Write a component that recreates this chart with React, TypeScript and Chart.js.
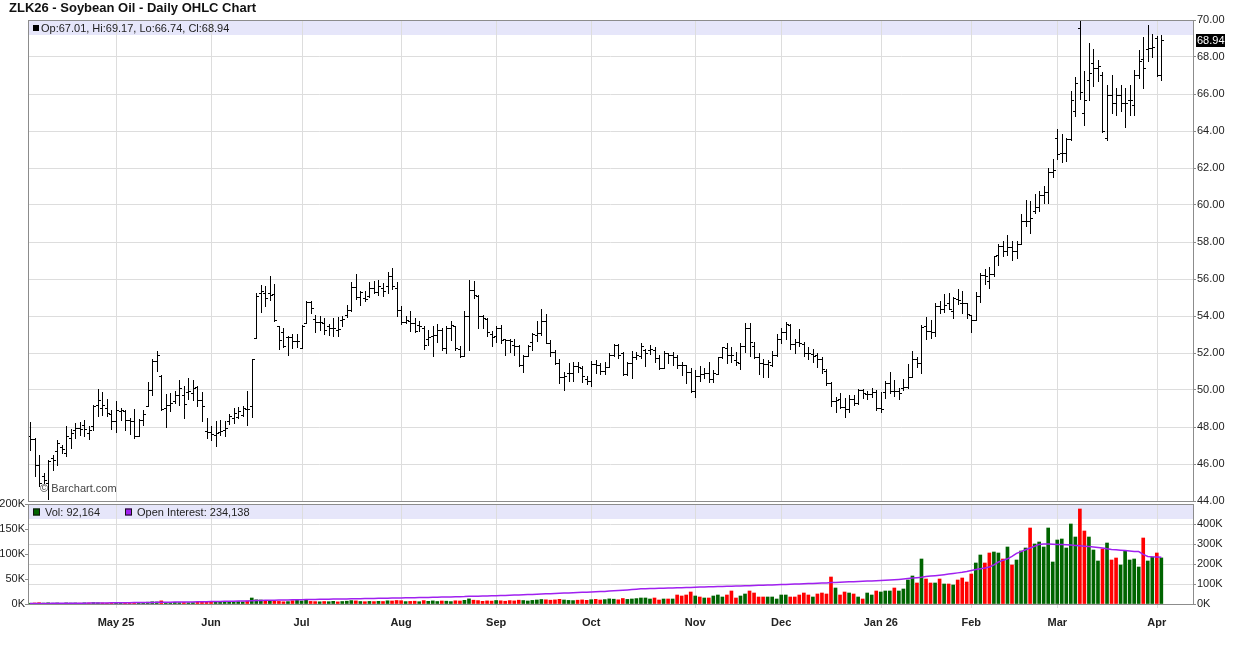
import React, { useEffect, useRef } from "react";
import { Chart, registerables } from "chart.js";

Chart.register(...registerables);

const TITLE = "ZLK26 - Soybean Oil - Daily OHLC Chart";

// first trading day of each month (bar index) and its label
const MONTH_IDX = [19, 40, 60, 82, 103, 124, 147, 166, 188, 208, 227, 249];
const MONTH_LABELS = ["May 25", "Jun", "Jul", "Aug", "Sep", "Oct", "Nov", "Dec", "Jan 26", "Feb", "Mar", "Apr"];

const OPEN = [
  47.53, 47.35, 45.96, 45.33, 45.0, 46.32, 46.68, 46.9, 46.59, 47.41,
  47.86, 47.95, 48.13, 47.68, 48.04, 49.21, 49.03, 49.03, 48.72, 48.31,
  48.85, 48.85, 48.4, 48.31, 47.53, 48.4, 49.12, 50.02, 51.59, 50.75,
  49.03, 49.21, 49.39, 49.75, 49.75, 49.87, 49.84, 50.14, 49.44, 47.77,
  47.71, 47.59, 47.71, 47.86, 48.31, 48.49, 48.54, 48.67, 48.97, 49.12,
  52.81, 55.24, 55.24, 55.24, 55.21, 53.44, 53.12, 52.86, 52.86, 52.63,
  52.27, 53.62, 54.74, 53.84, 53.66, 53.62, 53.44, 53.35, 53.26, 53.8,
  54.07, 54.31, 55.57, 55.03, 54.97, 55.06, 55.51, 55.28, 55.51, 55.64,
  56.18, 55.51, 54.31, 53.66, 53.71, 53.62, 53.53, 53.35, 52.76, 52.9,
  52.99, 53.26, 52.27, 53.35, 53.44, 52.22, 51.82, 53.98, 55.39, 55.1,
  53.98, 53.84, 53.05, 52.9, 53.35, 52.76, 52.68, 52.45, 52.36, 51.37,
  51.82, 52.61, 52.97, 53.06, 53.75, 52.56, 52.07, 51.48, 50.68, 50.94,
  50.94, 51.3, 51.17, 50.58, 50.5, 51.41, 51.35, 51.05, 51.26, 51.89,
  52.43, 51.98, 50.86, 51.48, 51.77, 51.84, 52.16, 52.16, 52.16, 51.71,
  51.17, 51.98, 51.89, 51.8, 51.35, 51.35, 50.99, 49.96, 50.76, 50.86,
  50.94, 50.58, 50.86, 51.77, 52.25, 51.89, 51.62, 51.44, 52.38, 53.33,
  52.38, 51.8, 51.44, 51.41, 51.35, 51.89, 52.74, 53.15, 53.51, 52.49,
  52.61, 52.49, 52.02, 51.95, 51.89, 51.66, 51.05, 50.4, 49.42, 49.5,
  49.1, 48.95, 49.5, 49.32, 50.0, 49.78, 49.78, 49.91, 49.01, 49.91,
  50.4, 49.96, 49.95, 50.09, 50.14, 50.72, 51.66, 51.48, 53.46, 53.19,
  53.14, 54.54, 54.36, 54.68, 54.27, 54.94, 54.72, 54.68, 54.04, 53.78,
  55.08, 56.2, 55.89, 56.25, 57.28, 57.78, 57.51, 57.75, 57.51, 57.87,
  59.14, 59.14, 59.68, 59.91, 60.52, 60.7, 61.78, 63.64, 62.79, 62.83,
  63.56, 65.06, 69.58, 64.97, 66.78, 67.69, 67.41, 67.05, 63.62, 65.97,
  65.52, 65.97, 65.52, 65.7, 65.42, 67.05, 67.87, 68.44, 68.5, 69.04,
  67.01,
];

const HIGH = [
  48.25, 47.41, 46.5, 45.51, 46.23, 46.5, 47.32, 47.05, 48.07, 47.89,
  48.22, 48.25, 48.36, 48.07, 49.21, 50.05, 49.87, 49.51, 48.9, 49.39,
  49.03, 48.9, 48.49, 48.97, 48.43, 48.9, 50.41, 51.68, 52.09, 50.83,
  49.8, 49.84, 49.93, 50.56, 50.2, 50.65, 50.56, 50.23, 49.87, 48.49,
  48.04, 48.31, 48.36, 48.31, 48.72, 49.03, 49.08, 49.12, 49.93, 51.68,
  55.24, 55.69, 55.6, 56.18, 55.75, 53.48, 53.35, 52.94, 53.05, 53.05,
  53.53, 54.79, 54.79, 54.07, 53.98, 53.89, 53.59, 53.89, 53.95, 53.98,
  54.61, 55.82, 56.29, 55.33, 55.33, 55.82, 55.87, 55.96, 55.78, 56.38,
  56.59, 55.82, 54.52, 54.02, 54.25, 53.89, 53.71, 53.48, 53.26, 53.44,
  53.57, 53.35, 53.44, 53.71, 53.44, 52.4, 54.25, 55.93, 55.87, 55.15,
  54.07, 53.89, 53.17, 53.44, 53.53, 52.76, 52.76, 52.76, 52.45, 51.91,
  52.45, 53.06, 53.75, 54.36, 54.11, 52.7, 52.16, 51.66, 50.99, 51.48,
  51.53, 51.53, 51.3, 50.76, 51.59, 51.62, 51.48, 51.53, 51.98, 52.49,
  52.49, 52.07, 51.53, 52.13, 52.07, 52.52, 52.2, 52.43, 52.34, 51.89,
  52.13, 51.98, 52.07, 51.89, 51.53, 51.35, 51.17, 51.08, 51.3, 51.17,
  51.53, 51.08, 51.8, 52.34, 52.52, 52.31, 52.07, 52.52, 53.64, 53.64,
  52.61, 51.98, 51.66, 51.62, 52.13, 53.03, 53.33, 53.69, 53.57, 52.74,
  53.28, 52.61, 52.31, 52.2, 51.98, 51.8, 51.12, 50.45, 49.6, 49.82,
  49.55, 49.73, 49.73, 50.04, 50.04, 49.96, 50.09, 50.0, 49.91, 50.5,
  50.99, 50.52, 50.12, 50.6, 51.41, 52.13, 51.8, 53.51, 53.96, 53.78,
  54.68, 54.81, 55.17, 55.26, 55.05, 55.48, 55.37, 54.72, 54.04, 55.32,
  56.34, 56.52, 56.67, 57.24, 57.87, 58.05, 58.36, 58.05, 58.05, 59.5,
  60.27, 60.22, 60.58, 60.76, 61.03, 62.02, 62.47, 64.09, 63.82, 63.64,
  66.15, 66.93, 69.95, 67.23, 68.77, 68.44, 67.83, 67.18, 66.46, 67.05,
  66.33, 66.51, 66.33, 66.51, 67.32, 68.37, 69.1, 69.71, 69.22, 69.13,
  69.17,
];

const LOW = [
  46.77, 45.33, 44.79, 44.97, 44.11, 45.69, 45.96, 46.59, 46.45, 46.86,
  47.41, 47.59, 47.5, 47.35, 47.86, 48.61, 48.67, 48.61, 47.89, 47.71,
  48.4, 47.82, 47.64, 47.41, 47.5, 48.13, 49.12, 49.75, 51.01, 48.94,
  48.0, 48.85, 49.3, 49.2, 48.49, 49.51, 49.48, 49.12, 48.31, 47.41,
  47.32, 46.99, 47.59, 47.5, 48.18, 48.22, 48.49, 48.58, 48.13, 48.54,
  52.81, 54.2, 54.52, 54.88, 53.71, 52.22, 52.32, 51.91, 52.27, 52.32,
  52.27, 53.62, 54.16, 53.12, 53.26, 53.05, 52.99, 52.94, 52.94, 53.44,
  53.95, 54.25, 54.92, 54.61, 54.79, 55.03, 55.24, 55.15, 55.06, 55.24,
  55.46, 53.98, 53.59, 53.62, 53.17, 53.12, 53.17, 52.22, 52.45, 51.82,
  52.58, 52.18, 52.0, 52.72, 52.18, 51.78, 51.82, 52.18, 54.97, 53.35,
  53.35, 52.94, 52.4, 52.58, 52.54, 51.91, 52.04, 51.91, 51.28, 50.95,
  51.82, 52.16, 52.67, 52.97, 52.52, 51.84, 51.41, 50.36, 50.0, 50.5,
  50.5, 50.99, 50.45, 50.32, 50.22, 50.9, 50.86, 50.86, 51.26, 51.84,
  51.71, 50.81, 50.81, 50.63, 51.66, 51.71, 51.3, 51.95, 51.53, 51.12,
  51.17, 51.44, 51.35, 51.17, 50.81, 50.36, 49.91, 49.6, 50.5, 50.63,
  50.45, 50.45, 50.85, 51.71, 51.48, 51.53, 51.35, 51.12, 52.07, 51.84,
  51.71, 50.86, 50.68, 50.68, 51.3, 51.84, 52.52, 52.74, 52.2, 52.02,
  52.38, 51.84, 51.66, 51.53, 51.26, 50.94, 50.27, 49.14, 48.83, 49.01,
  48.52, 48.83, 49.19, 49.24, 49.55, 49.5, 49.6, 48.92, 48.83, 49.55,
  49.86, 49.65, 49.5, 50.0, 50.09, 50.7, 51.26, 50.9, 52.74, 52.83,
  52.92, 54.14, 54.22, 54.36, 53.91, 54.63, 54.14, 53.91, 53.14, 53.78,
  54.76, 55.71, 55.53, 56.16, 56.74, 57.24, 57.28, 57.03, 57.15, 57.87,
  58.86, 58.5, 59.59, 59.68, 60.13, 60.13, 61.53, 62.5, 62.32, 62.38,
  63.53, 64.79, 65.73, 64.34, 65.7, 66.42, 66.69, 63.92, 63.53, 64.97,
  64.88, 65.06, 64.21, 64.88, 64.88, 66.87, 66.33, 67.78, 68.01, 67.0,
  66.74,
];

const CLOSE = [
  47.35, 45.96, 44.97, 45.15, 46.14, 46.23, 47.14, 46.81, 47.5, 47.68,
  47.95, 47.89, 47.89, 47.86, 49.15, 49.48, 49.21, 48.76, 48.31, 48.94,
  48.94, 48.4, 48.31, 47.5, 48.4, 48.72, 50.02, 51.55, 51.91, 49.0,
  49.21, 49.3, 49.75, 50.1, 49.26, 49.93, 50.11, 49.44, 49.12, 47.71,
  47.64, 47.68, 47.77, 47.95, 48.61, 48.76, 48.85, 49.03, 48.97, 51.68,
  55.1, 55.33, 54.97, 55.15, 53.77, 52.72, 52.4, 52.86, 52.63, 52.63,
  53.48, 54.74, 54.43, 53.66, 53.66, 53.23, 53.35, 53.35, 53.3, 53.84,
  54.34, 55.57, 55.03, 55.3, 54.92, 55.51, 55.28, 55.64, 55.33, 56.18,
  55.64, 54.31, 53.66, 53.8, 53.62, 53.17, 53.48, 52.45, 52.86, 52.99,
  53.26, 52.27, 53.35, 53.53, 52.27, 51.82, 53.98, 55.39, 55.15, 53.98,
  53.89, 53.12, 52.86, 53.35, 52.72, 52.68, 52.63, 52.36, 51.37, 51.82,
  52.4, 53.03, 53.06, 53.75, 52.56, 52.07, 51.48, 50.68, 50.76, 50.94,
  51.3, 51.23, 50.76, 50.5, 51.41, 51.35, 51.05, 51.26, 51.89, 52.43,
  51.89, 50.86, 51.48, 51.77, 51.89, 52.38, 51.98, 52.2, 51.71, 51.17,
  51.98, 51.89, 51.8, 51.35, 51.35, 50.99, 49.96, 50.76, 50.86, 50.94,
  50.58, 50.9, 51.77, 52.31, 51.89, 51.89, 51.53, 52.38, 53.33, 52.61,
  51.8, 51.44, 51.41, 51.53, 51.89, 52.74, 53.15, 53.57, 52.49, 52.61,
  52.56, 52.02, 51.98, 51.84, 51.66, 51.12, 50.4, 49.42, 49.46, 49.1,
  48.95, 49.5, 49.28, 50.0, 49.82, 49.78, 49.91, 49.01, 48.95, 50.4,
  49.96, 49.95, 49.82, 50.14, 50.72, 51.66, 51.48, 53.42, 53.19, 53.15,
  54.54, 54.36, 54.58, 54.36, 54.99, 54.86, 54.68, 54.09, 53.78, 55.08,
  56.2, 56.16, 56.25, 57.24, 57.78, 57.51, 57.75, 57.51, 57.87, 59.14,
  59.14, 59.32, 59.91, 60.52, 60.7, 61.78, 61.89, 62.74, 62.83, 63.59,
  65.7, 66.6, 66.09, 65.7, 67.14, 67.41, 67.5, 63.98, 65.97, 65.52,
  65.97, 65.52, 65.52, 65.7, 67.05, 67.78, 67.41, 68.5, 68.55, 67.05,
  68.94,
];

// volume in thousands of contracts
const VOLUME_K = [
  1.5, 2.0, 2.6, 1.8, 2.4, 1.6, 2.0, 1.4, 2.2, 1.8,
  2.0, 1.6, 2.3, 1.9, 2.8, 2.4, 2.0, 1.7, 2.2, 2.5,
  2.0, 2.6, 2.2, 3.0, 2.4, 2.8, 3.6, 4.4, 4.0, 6.2,
  3.0, 2.6, 3.4, 2.8, 3.2, 2.6, 3.0, 3.4, 3.8, 4.6,
  4.0, 5.0, 4.2, 3.6, 4.4, 3.8, 4.8, 4.2, 6.0, 12.0,
  8.4, 8.0, 7.2, 6.4, 5.6, 5.2, 4.4, 4.8, 6.6, 7.2,
  6.0, 7.4, 5.2, 4.8, 4.4, 5.0, 4.6, 5.4, 4.2, 5.0,
  5.6, 6.8, 6.2, 5.0, 4.6, 5.2, 4.8, 5.4, 5.0, 6.4,
  6.0, 7.0, 6.6, 4.8, 5.2, 5.6, 4.6, 6.8, 5.4, 6.2,
  5.0, 6.0, 5.6, 4.8, 6.4, 6.0, 7.4, 10.2, 7.6, 6.8,
  5.4, 6.2, 5.8, 7.0, 6.4, 5.6, 6.8, 6.2, 7.6, 7.0,
  6.0, 7.2, 8.0, 9.0, 8.4, 7.6, 8.2, 9.4, 8.0, 7.2,
  6.8, 7.6, 8.2, 7.4, 8.6, 9.4, 8.0, 8.8, 10.2, 9.6,
  8.4, 11.0, 9.2, 10.0, 10.8, 12, 12, 10, 12, 8,
  10, 10, 10, 18, 16, 18, 24, 16, 14, 12,
  12, 16, 18, 14, 18, 26, 12, 16, 20, 26,
  22, 14, 14, 14, 14, 10, 18, 18, 14, 14,
  18, 22, 18, 14, 20, 22, 20, 54, 32, 18,
  24, 22, 20, 14, 10, 22, 18, 26, 24, 26,
  26, 32, 26, 30, 48, 56, 42, 90, 50, 42,
  42, 50, 40, 40, 38, 48, 52, 44, 60, 82,
  98, 82, 102, 104, 102, 90, 114, 78, 88, 106,
  112, 152, 120, 124, 114, 152, 84, 128, 130, 112,
  160, 134, 190, 146, 134, 108, 86, 110, 122, 88,
  92, 78, 106, 88, 90, 74, 132, 86, 94, 102,
  92.164,
];

// open interest in thousands of contracts
const OPEN_INTEREST_K = [
  2.5, 2.6, 2.8, 3.0, 3.1, 3.2, 3.3, 3.4, 3.6, 3.8,
  4.0, 4.1, 4.3, 4.5, 4.8, 5.0, 5.3, 5.5, 5.7, 6.0,
  6.2, 6.4, 6.6, 6.9, 7.1, 7.3, 7.6, 7.9, 8.2, 8.6,
  8.9, 9.1, 9.4, 9.7, 10.0, 10.3, 10.6, 10.9, 11.3, 11.6,
  12.0, 12.4, 12.8, 13.2, 13.6, 14.0, 14.4, 14.9, 15.6, 16.8,
  17.5, 18.0, 18.4, 18.9, 19.3, 19.8, 20.2, 20.6, 21.0, 21.4,
  21.8, 22.1, 22.5, 23.0, 23.3, 23.7, 24.0, 24.4, 24.8, 25.1,
  25.5, 26.0, 26.4, 26.8, 27.1, 27.5, 27.9, 28.2, 28.6, 29.0,
  29.5, 30.0, 30.4, 30.8, 31.2, 31.7, 32.1, 32.6, 33.0, 33.5,
  34.0, 34.4, 34.9, 35.4, 35.9, 36.4, 37.0, 38.2, 38.8, 39.3,
  39.9, 40.4, 41.0, 41.6, 42.3, 43.0, 43.8, 44.5, 45.3, 46.2,
  47.0, 47.9, 48.8, 49.8, 50.7, 51.6, 52.6, 53.6, 54.5, 55.5,
  56.4, 57.3, 58.2, 59.1, 60.0, 61.0, 62.0, 63.1, 64.5, 65.9,
  67.2, 68.8, 70.4, 72.0, 73.9, 75.8, 76.5, 77.1, 77.6, 78.2,
  78.9, 79.5, 80.2, 80.9, 81.6, 82.4, 83.1, 83.8, 84.5, 85.1,
  85.7, 86.3, 86.9, 87.6, 88.2, 88.9, 89.6, 90.3, 91.0, 91.8,
  92.5, 93.3, 94.1, 94.8, 95.6, 96.4, 97.1, 97.8, 98.6, 99.4,
  100.2, 101.0, 101.9, 102.8, 103.7, 104.6, 105.6, 106.9, 108.0, 109.0,
  110.0, 110.9, 111.8, 112.7, 113.6, 114.6, 115.6, 116.6, 117.6, 118.8,
  120.0, 121.5, 123.0, 125.0, 127.2, 129.5, 131.8, 134.0, 137.0, 139.4,
  141.6, 144.0, 146.8, 149.6, 152.5, 155.6, 159.0, 163.0, 168.0, 172.0,
  176.0, 180.0, 185.0, 196.0, 210.0, 218.0, 226.0, 238.0, 253.0, 262.0,
  271.0, 280.0, 289.0, 298.0, 300.0, 300.0, 299.0, 298.0, 297.0, 296.0,
  295.0, 293.0, 291.0, 289.0, 287.0, 285.0, 283.0, 280.0, 276.0, 273.0,
  271.0, 269.0, 267.0, 265.0, 263.0, 262.0, 248.0, 238.0, 236.0, 235.0,
  234.138,
];

// volume bar colour (g = green, r = red), from bar VOL_DIR_START on;
// earlier bars are coloured by close vs previous close
const VOL_DIR_START = 135;
const VOL_DIR_LATE =
  "gggrrgrgrr" + "rrgrgrgggr" + "rrggrrrrgg" + "gggrrrrrgr" + "rrrgrrgrgr" +
  "ggrgggrggg" + "grgrrgrgrg" + "rrrrggrrgg" + "rgrgggrggg" + "gggggggrrg" +
  "ggrgrrgggg" + "grggrg";

const FONT = "'Liberation Sans', Arial, Helvetica, sans-serif";
const GRID = "#dddddd";
const BORDER = "#8c8c8c";
const BAND = "#e6e6fa";
const GREEN = "#006400";
const RED = "#ff0000";
const PURPLE = "#a020f0";

const X_MIN = -0.45;
const X_MAX = 257;

function fmt(n: number) {
  return Math.round(n).toLocaleString("en-US");
}

function monthLabel(v: any) {
  const k = MONTH_IDX.indexOf(Math.round(Number(v)));
  return k >= 0 ? MONTH_LABELS[k] : null;
}

// vertical month grid lines, positioned by the chart's own x scale
function drawMonthGrid(chart: any, tickBelow: number) {
  const { ctx, chartArea: a } = chart;
  const xs = chart.scales.x;
  ctx.save();
  ctx.strokeStyle = GRID;
  ctx.lineWidth = 1;
  ctx.beginPath();
  MONTH_IDX.forEach((idx) => {
    const x = Math.round(xs.getPixelForValue(idx)) + 0.5;
    ctx.moveTo(x, a.top);
    ctx.lineTo(x, a.bottom + tickBelow);
  });
  ctx.stroke();
  ctx.restore();
}

function drawBorder(ctx: CanvasRenderingContext2D, a: any) {
  const l = Math.floor(a.left) + 0.5;
  const r = Math.floor(a.right) + 0.5;
  const t = Math.floor(a.top) + 0.5;
  const b = Math.floor(a.bottom) + 0.5;
  ctx.save();
  ctx.strokeStyle = BORDER;
  ctx.lineWidth = 1;
  ctx.strokeRect(l, t, r - l, b - t);
  ctx.restore();
}

export default function App() {
  const priceRef = useRef<HTMLCanvasElement>(null);
  const volRef = useRef<HTMLCanvasElement>(null);

  useEffect(() => {
    Chart.defaults.font.family = FONT;
    Chart.defaults.font.size = 11;
    Chart.defaults.color = "#222";

    const last = CLOSE.length - 1;

    const priceBars = HIGH.map((h, i) => ({ x: i, y: [LOW[i], h] }));

    const pricePlugin = {
      id: "pricePanel",
      beforeDraw(chart: any) {
        const { ctx, chartArea: a } = chart;
        ctx.save();
        ctx.fillStyle = BAND;
        ctx.fillRect(a.left, a.top, a.right - a.left, 15);
        ctx.restore();
      },
      beforeDatasetsDraw(chart: any) {
        drawMonthGrid(chart, 0);
      },
      beforeDatasetDraw(chart: any, args: any) {
        if (args.index !== 0) return;
        const { ctx } = chart;
        const yScale = chart.scales.y;
        ctx.save();
        ctx.fillStyle = "#000";
        args.meta.data.forEach((el: any, i: number) => {
          const x = Math.round(el.x);
          const top = Math.round(Math.min(el.y, el.base));
          const bot = Math.round(Math.max(el.y, el.base));
          ctx.fillRect(x, top, 1, Math.max(1, bot - top + 1));
          const yo = Math.round(yScale.getPixelForValue(OPEN[i]));
          const yc = Math.round(yScale.getPixelForValue(CLOSE[i]));
          ctx.fillRect(x - 2, yo, 2, 1);
          ctx.fillRect(x + 1, yc, 2, 1);
        });
        ctx.restore();
        return false;
      },
      afterDatasetsDraw(chart: any) {
        const { ctx, chartArea: a } = chart;
        const yScale = chart.scales.y;
        drawBorder(ctx, a);
        ctx.save();
        ctx.fillStyle = "#000";
        ctx.fillRect(a.left + 5, a.top + 5, 6, 6);
        ctx.font = `11px ${FONT}`;
        ctx.textBaseline = "middle";
        ctx.fillStyle = "#222";
        ctx.fillText(
          `Op:${OPEN[last].toFixed(2)}, Hi:${HIGH[last].toFixed(2)}, Lo:${LOW[last].toFixed(2)}, Cl:${CLOSE[last].toFixed(2)}`,
          a.left + 13,
          a.top + 8.5
        );
        ctx.fillStyle = "#444";
        ctx.fillText("\u00A9 Barchart.com", a.left + 12, a.bottom - 12.5);
        const yc = Math.round(yScale.getPixelForValue(CLOSE[last]));
        ctx.fillStyle = "#000";
        ctx.fillRect(a.right + 3, yc - 6, 29, 13);
        ctx.fillStyle = "#fff";
        ctx.fillText(CLOSE[last].toFixed(2), a.right + 4, yc + 0.5);
        ctx.restore();
      },
    };

    const priceChart = new Chart(priceRef.current as HTMLCanvasElement, {
      type: "bar",
      data: {
        datasets: [
          {
            data: priceBars as any,
            backgroundColor: "#000",
          },
        ],
      },
      options: {
        responsive: false,
        animation: false,
        devicePixelRatio: 1,
        events: [],
        layout: { padding: { left: 28, top: 20, right: 0, bottom: 14 } },
        plugins: { legend: { display: false }, tooltip: { enabled: false } },
        scales: {
          x: {
            type: "linear",
            display: false,
            min: X_MIN,
            max: X_MAX,
            offset: false,
            grid: { display: false, offset: false },
          },
          y: {
            type: "linear",
            position: "right",
            min: 44,
            max: 70,
            afterFit: (s: any) => {
              s.width = 43;
            },
            ticks: {
              stepSize: 2,
              padding: 1,
              color: "#222",
              font: { size: 11, family: FONT },
              callback: (v: any) => Number(v).toFixed(2),
            },
            grid: { color: GRID, tickLength: 3, tickColor: BORDER },
            border: { display: false },
          },
        },
      } as any,
      plugins: [pricePlugin as any],
    });

    const volColors = VOLUME_K.map((_, i) => {
      let up: boolean;
      if (i >= VOL_DIR_START) up = VOL_DIR_LATE[i - VOL_DIR_START] === "g";
      else up = i === 0 ? true : CLOSE[i] >= CLOSE[i - 1];
      return up ? GREEN : RED;
    });

    const volPlugin = {
      id: "volPanel",
      beforeDraw(chart: any) {
        const { ctx, chartArea: a } = chart;
        ctx.save();
        ctx.fillStyle = BAND;
        ctx.fillRect(a.left, a.top, a.right - a.left, 15);
        ctx.restore();
      },
      beforeDatasetsDraw(chart: any) {
        drawMonthGrid(chart, 4);
      },
      afterDatasetsDraw(chart: any) {
        const { ctx, chartArea: a } = chart;
        drawBorder(ctx, a);
        ctx.save();
        ctx.font = `11px ${FONT}`;
        ctx.textBaseline = "middle";
        const cy = a.top + 8;
        ctx.fillStyle = GREEN;
        ctx.fillRect(a.left + 5, cy - 3.5, 7, 7);
        ctx.strokeStyle = "#111";
        ctx.lineWidth = 1;
        ctx.strokeRect(a.left + 5.5, cy - 3, 6, 6);
        ctx.fillStyle = "#222";
        ctx.fillText(`Vol: ${fmt(VOLUME_K[last] * 1000)}`, a.left + 17, cy + 0.5);
        ctx.fillStyle = PURPLE;
        ctx.fillRect(a.left + 97, cy - 3.5, 7, 7);
        ctx.strokeRect(a.left + 97.5, cy - 3, 6, 6);
        ctx.fillStyle = "#222";
        ctx.fillText(
          `Open Interest: ${fmt(OPEN_INTEREST_K[last] * 1000)}`,
          a.left + 109,
          cy + 0.5
        );
        ctx.restore();
      },
    };

    const volChart = new Chart(volRef.current as HTMLCanvasElement, {
      type: "bar",
      data: {
        datasets: [
          {
            type: "line",
            data: OPEN_INTEREST_K.map((v, i) => ({ x: i, y: v })) as any,
            yAxisID: "oi",
            borderColor: PURPLE,
            borderWidth: 1.5,
            pointRadius: 0,
            tension: 0,
            order: 0,
          },
          {
            type: "bar",
            data: VOLUME_K.map((v, i) => ({ x: i, y: v })) as any,
            yAxisID: "vol",
            backgroundColor: volColors,
            barThickness: 3,
            order: 1,
          },
        ],
      },
      options: {
        responsive: false,
        animation: false,
        devicePixelRatio: 1,
        events: [],
        layout: { padding: { left: 0, top: 14, right: 0, bottom: 0 } },
        plugins: { legend: { display: false }, tooltip: { enabled: false } },
        scales: {
          x: {
            type: "linear",
            min: X_MIN,
            max: X_MAX,
            offset: false,
            afterBuildTicks: (s: any) => {
              s.ticks = MONTH_IDX.map((v) => ({ value: v }));
            },
            afterFit: (s: any) => {
              s.height = 41;
            },
            ticks: {
              autoSkip: false,
              maxRotation: 0,
              padding: 4,
              color: "#222",
              font: { size: 11, weight: "bold", family: FONT },
              callback: monthLabel as any,
            },
            grid: { display: false, offset: false },
            border: { display: false },
          },
          vol: {
            type: "linear",
            position: "left",
            min: 0,
            max: 200,
            afterFit: (s: any) => {
              s.width = 28;
            },
            ticks: {
              stepSize: 50,
              padding: 0,
              color: "#222",
              font: { size: 11, family: FONT },
              callback: (v: any) => `${v}K`,
            },
            grid: { drawOnChartArea: false, tickLength: 3, tickColor: BORDER },
            border: { display: false },
          },
          oi: {
            type: "linear",
            position: "right",
            min: 0,
            max: 500,
            afterFit: (s: any) => {
              s.width = 43;
            },
            ticks: {
              stepSize: 100,
              padding: 1,
              color: "#222",
              font: { size: 11, family: FONT },
              callback: (v: any) => (Number(v) >= 500 ? null : `${v}K`),
            },
            grid: { color: GRID, tickLength: 3, tickColor: BORDER },
            border: { display: false },
          },
        },
      } as any,
      plugins: [volPlugin as any],
    });

    return () => {
      priceChart.destroy();
      volChart.destroy();
    };
  }, []);

  return (
    <div
      style={{
        position: "absolute",
        left: 0,
        top: 0,
        width: 1236,
        height: 645,
        background: "#fff",
        overflow: "hidden",
      }}
    >
      <canvas
        ref={priceRef}
        width={1236}
        height={515}
        style={{ position: "absolute", left: 0, top: 0, width: 1236, height: 515 }}
      />
      <canvas
        ref={volRef}
        width={1236}
        height={155}
        style={{ position: "absolute", left: 0, top: 490, width: 1236, height: 155 }}
      />
      <div
        style={{
          position: "absolute",
          left: 9,
          top: -1,
          font: `bold 13px ${FONT}`,
          lineHeight: "17px",
          color: "#111",
          whiteSpace: "nowrap",
        }}
      >
        {TITLE}
      </div>
    </div>
  );
}
